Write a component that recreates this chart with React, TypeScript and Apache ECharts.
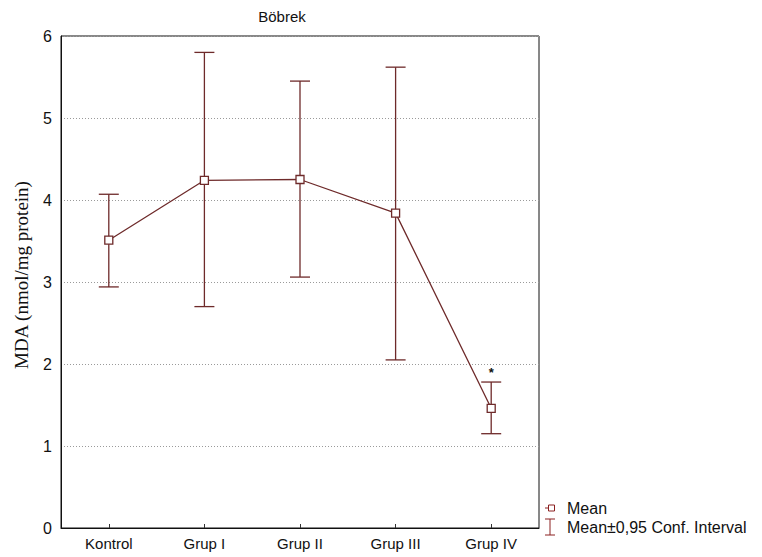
import React, { useEffect, useRef } from "react";
import * as echarts from "echarts";

const categories = ["Kontrol", "Grup I", "Grup II", "Grup III", "Grup IV"];
const means = [3.51, 4.24, 4.25, 3.84, 1.46];
const upper = [4.07, 5.80, 5.45, 5.62, 1.78];
const lower = [2.94, 2.70, 3.06, 2.05, 1.15];
const marks = ["", "", "", "", "*"];
const yTicks = [0, 1, 2, 3, 4, 5, 6];

const COLOR = "#6e2a2a";

export default function App() {
  const ref = useRef<HTMLDivElement>(null);
  useEffect(() => {
    if (!ref.current) return;
    const chart = echarts.init(ref.current, null, { renderer: "svg" });
    const errData = categories.map((_, i) => [i, lower[i], upper[i], marks[i]]);
    chart.setOption({
      animation: false,
      backgroundColor: "#ffffff",
      title: {
        text: "Böbrek",
        left: 277,
        top: 4,
        textAlign: "center",
        textStyle: { fontFamily: "Arial, Liberation Sans", fontSize: 15, fontWeight: "normal", color: "#111" },
      },
      grid: { left: 61, right: 223, top: 36, bottom: 29, show: true, borderColor: "#111", borderWidth: 1 },
      xAxis: {
        type: "category",
        data: categories,
        boundaryGap: true,
        axisLine: { show: true, lineStyle: { color: "#111" } },
        axisTick: { show: true, alignWithLabel: true, inside: true, length: 4, lineStyle: { color: "#333" } },
        axisLabel: { fontFamily: "Liberation Sans Narrow, Arial Narrow, Arial", fontSize: 15, color: "#111", margin: 8 },
      },
      yAxis: {
        type: "value",
        min: yTicks[0],
        max: yTicks[yTicks.length - 1],
        interval: 1,
        axisLine: { show: true, lineStyle: { color: "#111" } },
        axisTick: { show: false },
        axisLabel: { fontFamily: "Arial, Liberation Sans", fontSize: 16, color: "#111", margin: 9 },
        splitLine: { show: true, lineStyle: { color: "#9a9a9a", type: [1, 2], width: 1 } },
      },
      series: [
        {
          type: "custom",
          data: errData,
          z: 2,
          renderItem: (params: any, api: any) => {
            const x = api.value(0);
            const lo = api.coord([x, api.value(1)]);
            const hi = api.coord([x, api.value(2)]);
            const half = 10;
            const mark = api.value(3);
            const style = { stroke: COLOR, lineWidth: 1.3 };
            const children: any[] = [
              { type: "line", shape: { x1: lo[0], y1: lo[1], x2: hi[0], y2: hi[1] }, style },
              { type: "line", shape: { x1: lo[0] - half, y1: lo[1], x2: lo[0] + half, y2: lo[1] }, style },
              { type: "line", shape: { x1: hi[0] - half, y1: hi[1], x2: hi[0] + half, y2: hi[1] }, style },
            ];
            if (mark) {
              children.push({
                type: "text",
                style: {
                  text: mark,
                  x: hi[0],
                  y: hi[1] - 3,
                  textAlign: "center",
                  textVerticalAlign: "bottom",
                  font: "bold 13px Arial",
                  fill: "#111",
                },
              });
            }
            return { type: "group", children };
          },
        },
        {
          type: "line",
          data: means,
          z: 3,
          symbol: "rect",
          symbolSize: 8,
          lineStyle: { color: COLOR, width: 1.3 },
          itemStyle: { color: "#ffffff", borderColor: COLOR, borderWidth: 1.3 },
        },
      ],
      graphic: [
        {
          type: "text",
          x: 21,
          y: 275,
          rotation: Math.PI / 2,
          style: {
            text: "MDA (nmol/mg protein)",
            textAlign: "center",
            textVerticalAlign: "middle",
            font: "19px 'Liberation Serif', 'Times New Roman', serif",
            fill: "#111",
          },
        },
        { type: "line", shape: { x1: 545, y1: 508, x2: 555, y2: 508 }, style: { stroke: "#8b2020", lineWidth: 1 } },
        { type: "rect", shape: { x: 548.5, y: 505, width: 6, height: 6 }, style: { fill: "#fff", stroke: "#8b2020", lineWidth: 1 } },
        { type: "text", style: { text: "Mean", x: 567, y: 508, textVerticalAlign: "middle", font: "16px Arial, 'Liberation Sans'", fill: "#111" } },
        { type: "line", shape: { x1: 550, y1: 519, x2: 550, y2: 535 }, style: { stroke: "#8b2020", lineWidth: 1 } },
        { type: "line", shape: { x1: 545, y1: 519, x2: 555, y2: 519 }, style: { stroke: "#8b2020", lineWidth: 1 } },
        { type: "line", shape: { x1: 545, y1: 535, x2: 555, y2: 535 }, style: { stroke: "#8b2020", lineWidth: 1 } },
        { type: "text", style: { text: "Mean±0,95 Conf. Interval", x: 567, y: 527, textVerticalAlign: "middle", font: "16px Arial, 'Liberation Sans'", fill: "#111" } },
      ],
    });
    return () => chart.dispose();
  }, []);
  return <div ref={ref} style={{ width: 762, height: 557, position: "absolute", left: 0, top: 0 }} />;
}
